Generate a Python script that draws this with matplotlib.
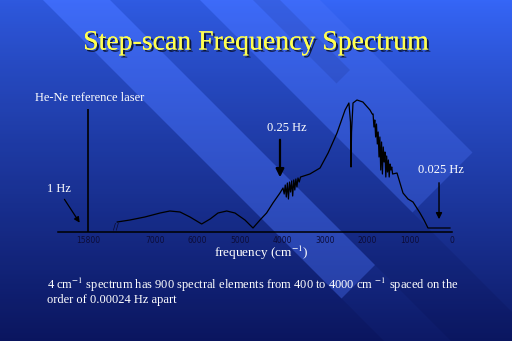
import numpy as np
import matplotlib
matplotlib.use("Agg")
import matplotlib.pyplot as plt
import matplotlib.patheffects as pe
from matplotlib.patches import Polygon

plt.rcParams["mathtext.fontset"] = "stix"

# spectrum (wavenumber in cm-1, height above axis)
wavenumber = [7890, 7590, 7240, 6880, 6650, 6410, 6175, 5900, 5700, 5515, 5310, 5115,
              4880, 4690, 4525, 4370, 4220, 4055,
              3983, 3955, 3930, 3905, 3880, 3855, 3830, 3805, 3780, 3755, 3730, 3705,
              3680, 3655, 3630, 3600, 3570,
              3350, 3110, 2920, 2710, 2520, 2430, 2392, 2380, 2368, 2333, 2240, 2100,
              1933, 1880,
              1860, 1840, 1820, 1800, 1780, 1760, 1740, 1720, 1700, 1680, 1660, 1640,
              1620, 1600, 1580, 1560, 1540, 1520, 1500, 1480, 1460, 1440, 1420, 1400,
              1296, 1155, 1037, 919, 754, 660, 566, 47]
signal = [10, 12, 15, 19, 21, 20, 15, 8, 13, 19, 21, 19,
          12, 4, 12, 19, 29, 39,
          44, 38, 47, 35, 49, 33, 50, 40, 51, 36, 52, 42,
          53, 45, 54, 50, 55,
          58, 64, 79, 99, 122, 129, 110, 65, 100, 129, 132, 130,
          122, 118,
          118, 105, 112, 95, 108, 88, 100, 75, 95, 62, 90, 58,
          85, 70, 80, 55, 76, 60, 72, 55, 68, 62, 65, 58,
          59, 39, 33, 30, 19, 12, 4, 4]

laser_pos = 8580          # where the 15800 cm-1 laser line is drawn (axis break)
laser_height = 123
tick_pos = [laser_pos, 7000, 6000, 5000, 4000, 3000, 2000, 1000, 0]
tick_labels = ["15800", "7000", "6000", "5000", "4000", "3000", "2000", "1000", "0"]

W, H = 512, 341
fig = plt.figure(figsize=(W / 100, H / 100), dpi=100)

# slide background
bg = fig.add_axes([0, 0, 1, 1])
top = np.array([0.21, 0.40, 0.97])
bottom = np.array([0.05, 0.10, 0.40])
t = np.linspace(0, 1, H)[:, None]
grad = top + (bottom - top) * t ** 0.9
img = np.repeat(grad[:, None, :], W, axis=1)
bg.imshow(img, extent=[0, W, H, 0], aspect="auto")


def band(u1, u2, s_end, color, alpha):
    s0 = -400
    pts = [((s0 + u1) / 2, (s0 - u1) / 2), ((s0 + u2) / 2, (s0 - u2) / 2),
           ((s_end + u2) / 2, (s_end - u2) / 2), ((s_end + u1) / 2, (s_end - u1) / 2)]
    bg.add_patch(Polygon(pts, closed=True, color=color, alpha=alpha, lw=0))


band(-600, 43, 1400, "#000030", 0.12)
band(110, 200, 1400, "#000030", 0.10)
band(43, 110, 640, "#5078ff", 0.35)
band(200, 320, 625, "#5078ff", 0.30)
band(253, 280, 420, "#000030", 0.10)
bg.set_xlim(0, W)
bg.set_ylim(H, 0)
bg.axis("off")

# spectrum axes
x_left = 58
px_per_unit = 42.43 / 1000
ax = fig.add_axes([x_left / W, (H - 232) / H, 394 / W, 140 / H])
ax.patch.set_alpha(0)
ax.plot(wavenumber, signal, color="black", lw=0.9)
ax.vlines(laser_pos, 0, laser_height, color="black", lw=1.2)
ax.set_xlim((452 - x_left) / px_per_unit, 0)
ax.set_ylim(0, 140)
for s in ["top", "right", "left"]:
    ax.spines[s].set_visible(False)
ax.spines["bottom"].set_linewidth(1.1)
ax.set_yticks([])
ax.set_xticks(tick_pos)
ax.set_xticklabels(tick_labels, fontsize=5.5, color="#0c0c38")
ax.tick_params(axis="x", length=0, pad=3)
ax.set_xticks([0], minor=True)
ax.tick_params(axis="x", which="minor", direction="in", length=7, width=1, color="black")
ax.text(7920, 1, "//", fontsize=6, color="#0a0a30", ha="center", va="bottom")

arrow = dict(arrowstyle="-|>", color="black", lw=1.6, mutation_scale=12)
ax.annotate("", xy=(8740, 7), xytext=(9170, 35), annotation_clip=False,
            arrowprops=dict(arrowstyle="-|>", color="black", lw=0.9, mutation_scale=8))
ax.annotate("", xy=(4054, 52), xytext=(4054, 95), annotation_clip=False, arrowprops=arrow)
ax.annotate("", xy=(306, 10), xytext=(306, 52), annotation_clip=False,
            arrowprops=dict(arrowstyle="-|>", color="black", lw=1.0, mutation_scale=9))

serif = "Liberation Serif"
title = fig.text(256 / W, 1 - 43 / H, "Step-scan Frequency Spectrum", family=serif,
                 fontsize=20, color="#ffff50", ha="center", va="center")
title.set_path_effects([pe.withSimplePatchShadow(offset=(1.5, -1.5), shadow_rgbFace="black",
                                                 alpha=0.7), pe.Normal()])


def label(x, y, s, size=9, ha="left"):
    fig.text(x / W, 1 - y / H, s, family=serif, fontsize=size, color="white",
             ha=ha, va="center")


label(35, 98, "He-Ne reference laser", 9)
label(47, 189, "1 Hz", 9)
label(267, 128, "0.25 Hz", 9)
label(418, 170, "0.025 Hz", 9)
label(261, 253, "frequency (cm$^{-1}$)", 9.5, ha="center")
label(47, 285, "4 cm$^{-1}$ spectrum has 900 spectral elements from 400 to 4000 cm $^{-1}$ spaced on the", 9)
label(47, 300, "order of 0.00024 Hz apart", 9)

fig.savefig("out.png", dpi=100)
